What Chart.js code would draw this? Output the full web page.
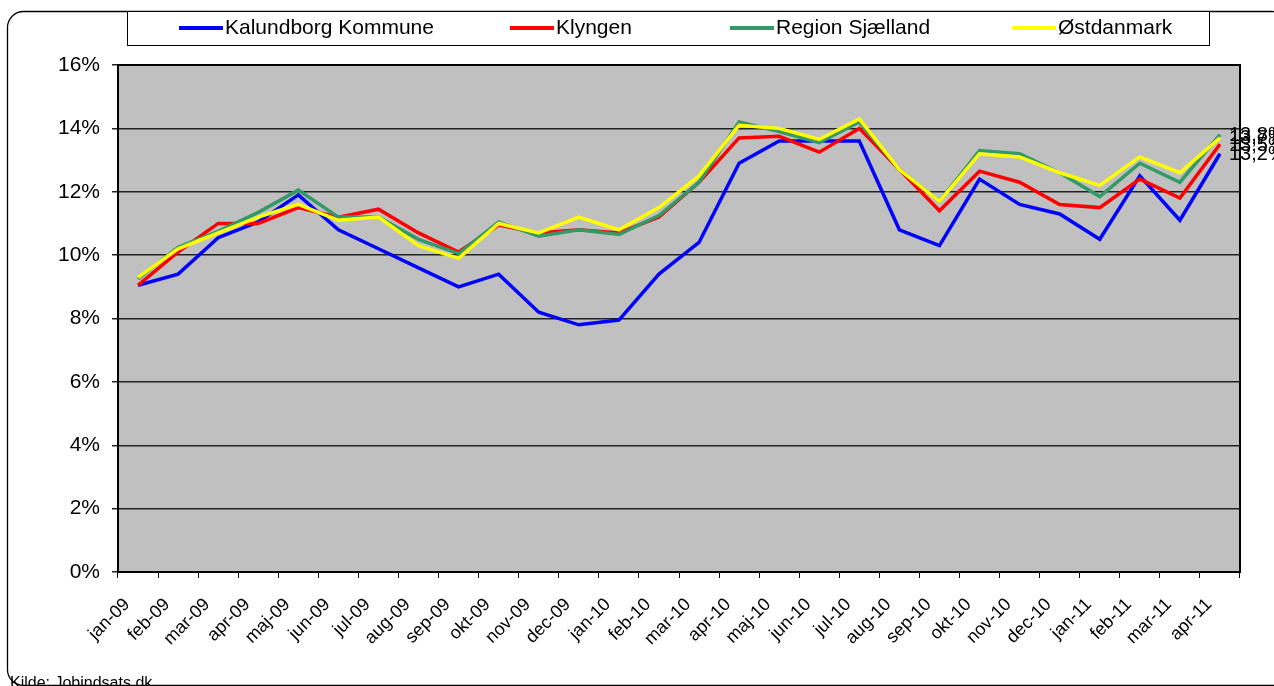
<!DOCTYPE html>
<html><head><meta charset="utf-8">
<script src="https://cdn.jsdelivr.net/npm/chart.js@4/dist/chart.umd.min.js"></script>
<style>html,body{margin:0;padding:0;background:#fff;overflow:hidden}#wrap{width:1274px;height:686px}</style>
</head><body><div id="wrap"><canvas id="c" width="1274" height="686"></canvas></div>
<script>
const months = ['jan-09','feb-09','mar-09','apr-09','maj-09','jun-09','jul-09','aug-09','sep-09','okt-09','nov-09','dec-09',
  'jan-10','feb-10','mar-10','apr-10','maj-10','jun-10','jul-10','aug-10','sep-10','okt-10','nov-10','dec-10',
  'jan-11','feb-11','mar-11','apr-11'];
const kalundborg = [9.05,9.4,10.55,11.05,11.9,10.8,10.2,9.6,9.0,9.4,8.2,7.8,7.95,9.4,10.4,12.9,13.6,13.6,13.6,10.8,10.3,12.4,11.6,11.3,10.5,12.5,11.1,13.2];
const klyngen = [9.05,10.1,11.0,11.0,11.5,11.2,11.45,10.7,10.1,10.95,10.7,10.8,10.7,11.2,12.3,13.7,13.75,13.25,14.0,12.7,11.4,12.65,12.3,11.6,11.5,12.4,11.8,13.5];
const regionSjaelland = [9.25,10.25,10.75,11.35,12.05,11.2,11.2,10.5,10.05,11.05,10.6,10.8,10.65,11.25,12.3,14.2,13.9,13.55,14.2,12.7,11.7,13.3,13.2,12.6,11.85,12.9,12.3,13.8];
const ostdanmark = [9.3,10.2,10.7,11.2,11.6,11.1,11.2,10.3,9.9,11.0,10.7,11.2,10.8,11.5,12.5,14.1,14.0,13.65,14.3,12.7,11.7,13.2,13.1,12.6,12.2,13.1,12.6,13.7];
const seriesNames = ['Kalundborg Kommune','Klyngen','Region Sjælland','Østdanmark'];
const seriesColors = ['#0000FF','#FF0000','#339966','#FFFF00'];
const yMin = 0, yMax = 16, yStep = 2;
const sourceText = 'Kilde: Jobindsats.dk';

const FONT = "'Liberation Sans', Arial, sans-serif";

const framePlugin = {
  id: 'frame',
  beforeDraw(chart) {
    const {ctx, chartArea: a} = chart;
    ctx.save();
    ctx.fillStyle = '#fff';
    ctx.fillRect(0, 0, chart.width, chart.height);
    ctx.strokeStyle = '#000';
    ctx.lineWidth = 1.3;
    ctx.beginPath();
    ctx.roundRect(7.5, 11.5, 1280, 674, 16);
    ctx.stroke();
    ctx.fillStyle = '#C0C0C0';
    ctx.fillRect(a.left, a.top, a.right - a.left, a.bottom - a.top);
    ctx.restore();
  },
  beforeDatasetsDraw(chart) {
    const {ctx, chartArea: a} = chart;
    ctx.save();
    ctx.strokeStyle = '#000';
    ctx.lineWidth = 2;
    ctx.beginPath();
    ctx.moveTo(a.right, a.top - 1);
    ctx.lineTo(a.right, a.bottom + 1);
    ctx.moveTo(a.left, a.top);
    ctx.lineTo(a.right, a.top);
    ctx.stroke();
    ctx.restore();
  },
  afterDatasetsDraw(chart) {
    const {ctx} = chart;
    ctx.save();
    ctx.fillStyle = '#000';
    ctx.font = '20px ' + FONT;
    ctx.textBaseline = 'middle';
    ctx.textAlign = 'left';
    chart.data.datasets.forEach((ds, i) => {
      const meta = chart.getDatasetMeta(i);
      const last = meta.data[meta.data.length - 1];
      const v = ds.data[ds.data.length - 1];
      ctx.fillText(v.toFixed(1).replace('.', ',') + '%', last.x + 9, last.y + 1);
    });
    ctx.restore();
  },
  afterDraw(chart) {
    const {ctx} = chart;
    ctx.save();
    ctx.fillStyle = '#fff';
    ctx.fillRect(127, 11, 1083, 35);
    ctx.strokeStyle = '#000';
    ctx.lineWidth = 1;
    ctx.strokeRect(127.5, 11.5, 1082, 34);
    const xs = [179, 510, 730, 1012];
    ctx.font = '21px ' + FONT;
    ctx.textBaseline = 'middle';
    ctx.textAlign = 'left';
    chart.data.datasets.forEach((ds, i) => {
      ctx.strokeStyle = ds.borderColor;
      ctx.lineWidth = 4;
      ctx.beginPath();
      ctx.moveTo(xs[i], 28);
      ctx.lineTo(xs[i] + 44, 28);
      ctx.stroke();
      ctx.fillStyle = '#000';
      ctx.fillText(ds.label, xs[i] + 46, 28);
    });
    ctx.font = '16px ' + FONT;
    ctx.textBaseline = 'top';
    ctx.fillStyle = '#000';
    ctx.fillText(sourceText, 10, 676);
    ctx.restore();
  }
};

const valueSets = [kalundborg, klyngen, regionSjaelland, ostdanmark];

new Chart(document.getElementById('c'), {
  type: 'line',
  data: {
    labels: months,
    datasets: valueSets.map((vals, i) => ({
      label: seriesNames[i],
      data: vals,
      borderColor: seriesColors[i],
      backgroundColor: seriesColors[i],
      borderWidth: 3.5,
      pointRadius: 0,
      tension: 0,
      fill: false,
      order: 4 - i
    }))
  },
  options: {
    responsive: false,
    animation: false,
    devicePixelRatio: 1,
    layout: { padding: { left: 0, top: 65, right: 34, bottom: 0 } },
    plugins: { legend: { display: false }, tooltip: { enabled: false }, title: { display: false } },
    scales: {
      x: {
        type: 'category',
        offset: true,
        grid: { offset: true, drawOnChartArea: false, drawTicks: true, tickLength: 6, color: '#000', lineWidth: 1 },
        border: { display: true, color: '#000', width: 2 },
        ticks: { autoSkip: false, maxRotation: 45, minRotation: 45, color: '#000', padding: 16, labelOffset: -11,
                 font: { family: FONT, size: 18 } },
        afterFit: s => { s.height = 114; }
      },
      y: {
        min: yMin, max: yMax,
        grid: { color: '#222', lineWidth: 1.5, tickLength: 6, drawTicks: true },
        border: { display: true, color: '#000', width: 2 },
        ticks: { stepSize: yStep, color: '#000', padding: 12, font: { family: FONT, size: 21 },
                 callback: v => v + '%' },
        afterFit: s => { s.width = 118; }
      }
    }
  },
  plugins: [framePlugin]
});
</script>
</body></html>
